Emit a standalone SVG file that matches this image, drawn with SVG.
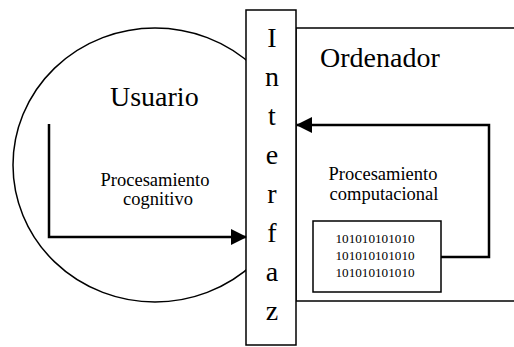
<svg xmlns="http://www.w3.org/2000/svg" width="514" height="347" viewBox="0 0 514 347" font-family="'Liberation Serif', 'DejaVu Serif', serif">
<style>
text{font-family:'Liberation Serif','DejaVu Serif',serif;fill:#000}
.big{font-size:28px}
.mid{font-size:18.5px;text-anchor:middle}
.bin{font-size:13.2px;text-anchor:middle}
.let{font-size:28px;text-anchor:middle}
.shape{fill:#fff;stroke:#000;stroke-width:1.5}
.conn{fill:none;stroke:#000;stroke-width:2.5}
</style>
<defs>
<marker id="ah" markerWidth="16" markerHeight="16" viewBox="0 0 16 16" refX="15" refY="8" orient="auto" markerUnits="userSpaceOnUse">
<path d="M0,0 L16,8 L0,16 Z" fill="#000"/>
</marker>
</defs>
<g id="usuario">
<ellipse class="shape" cx="155" cy="165" rx="142" ry="137"/>
<text class="big" x="110" y="106">Usuario</text>
<text class="mid" x="155" y="186">Procesamiento</text>
<text class="mid" x="158" y="205">cognitivo</text>
</g>
<g id="ordenador">
<rect class="shape" x="296" y="28" width="230" height="273" stroke-width="2"/>
<text class="big" x="320" y="67">Ordenador</text>
<text class="mid" x="383" y="180">Procesamiento</text>
<text class="mid" x="384" y="200">computacional</text>
</g>
<g id="binario">
<rect class="shape" x="313" y="221" width="128" height="71" stroke-width="2"/>
<text class="bin" x="375" y="243">101010101010</text>
<text class="bin" x="375" y="260">101010101010</text>
<text class="bin" x="375" y="277">101010101010</text>
</g>
<g id="interfaz">
<rect class="shape" x="246" y="10" width="50" height="335"/>
<text class="let" x="272" y="47">I</text>
<text class="let" x="272" y="86">n</text>
<text class="let" x="272" y="125">t</text>
<text class="let" x="272" y="164">e</text>
<text class="let" x="272" y="203">r</text>
<text class="let" x="272" y="242">f</text>
<text class="let" x="272" y="281">a</text>
<text class="let" x="272" y="320">z</text>
</g>
<g id="connectors">
<path class="conn" d="M49,124 L49,237 L246,237" marker-end="url(#ah)"/>
<path class="conn" d="M441,257 L489,257 L489,125 L297,125" marker-end="url(#ah)"/>
</g>
</svg>
